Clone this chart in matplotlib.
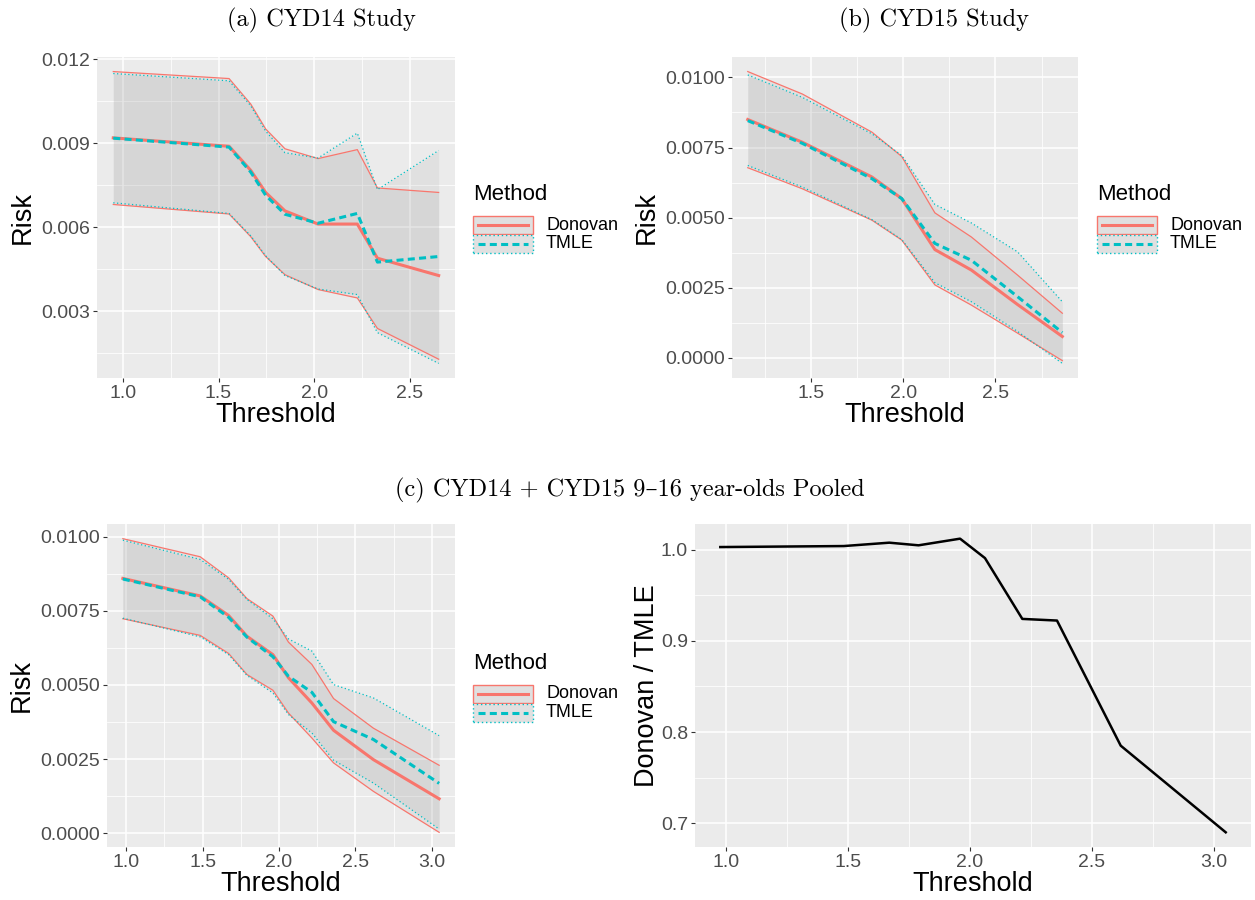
import matplotlib
matplotlib.use('Agg')
import matplotlib.pyplot as plt
from matplotlib.patches import Rectangle
from matplotlib.lines import Line2D
from matplotlib.ticker import MultipleLocator, FormatStrFormatter

plt.rcParams['font.family'] = ['Liberation Sans', 'DejaVu Sans']

# (a) CYD14
a_x = [0.95, 1.555, 1.668, 1.746, 1.847, 2.02, 2.225, 2.330, 2.650]
a_don = [0.00919, 0.00889, 0.00803, 0.00724, 0.00658, 0.00611, 0.00611, 0.00489, 0.00427]
a_don_lo = [0.00681, 0.00647, 0.00566, 0.00495, 0.00430, 0.00377, 0.00347, 0.00238, 0.00128]
a_don_hi = [0.01156, 0.01131, 0.01040, 0.00951, 0.00880, 0.00845, 0.00877, 0.00740, 0.00724]
a_tmle = [0.00918, 0.00886, 0.00797, 0.00714, 0.00646, 0.00614, 0.00649, 0.00475, 0.00495]
a_tmle_lo = [0.00687, 0.00649, 0.00569, 0.00498, 0.00427, 0.00379, 0.00359, 0.00223, 0.00113]
a_tmle_hi = [0.01149, 0.01123, 0.01034, 0.00943, 0.00866, 0.00847, 0.00936, 0.00734, 0.00874]

# (b) CYD15
b_x = [1.155, 1.451, 1.829, 1.991, 2.171, 2.369, 2.620, 2.863]
b_don = [0.00850, 0.00769, 0.00645, 0.00568, 0.00386, 0.00313, 0.00190, 0.00076]
b_don_lo = [0.00678, 0.00603, 0.00491, 0.00420, 0.00260, 0.00188, 0.00088, -0.00010]
b_don_hi = [0.01021, 0.00941, 0.00805, 0.00718, 0.00517, 0.00431, 0.00295, 0.00159]
b_tmle = [0.00846, 0.00765, 0.00639, 0.00568, 0.00408, 0.00348, 0.00218, 0.00090]
b_tmle_lo = [0.00686, 0.00609, 0.00493, 0.00422, 0.00268, 0.00200, 0.00094, -0.00020]
b_tmle_hi = [0.01009, 0.00929, 0.00799, 0.00722, 0.00547, 0.00481, 0.00378, 0.00200]

# (c) pooled
c_x = [0.978, 1.484, 1.670, 1.790, 1.960, 2.062, 2.215, 2.357, 2.618, 3.048]
c_don = [0.00859, 0.00800, 0.00734, 0.00664, 0.00602, 0.00524, 0.00439, 0.00347, 0.00248, 0.00116]
c_don_lo = [0.00723, 0.00667, 0.00606, 0.00535, 0.00482, 0.00405, 0.00321, 0.00237, 0.00141, 0.00003]
c_don_hi = [0.00993, 0.00932, 0.00861, 0.00791, 0.00732, 0.00644, 0.00569, 0.00454, 0.00354, 0.00229]
c_tmle = [0.00857, 0.00797, 0.00728, 0.00661, 0.00595, 0.00529, 0.00475, 0.00376, 0.00316, 0.00168]
c_tmle_lo = [0.00725, 0.00662, 0.00602, 0.00532, 0.00473, 0.00400, 0.00338, 0.00246, 0.00169, 0.00014]
c_tmle_hi = [0.00988, 0.00923, 0.00856, 0.00788, 0.00723, 0.00655, 0.00614, 0.00501, 0.00456, 0.00329]
c_ratio = [1.0029, 1.0040, 1.0077, 1.0048, 1.0121, 0.9908, 0.9241, 0.9223, 0.7851, 0.6901]

methods = ['Donovan', 'TMLE']

RED = '#F8766D'
CYAN = '#00BFC4'
DOT = (0, (1, 2))
DASH = (0, (2.3, 1.4))
SERIF = ['cmr10', 'DejaVu Serif']
W, H = 1255, 900

fig = plt.figure(figsize=(W / 100, H / 100), dpi=100)


def fx(px):
    return px / W


def fy(py):
    return 1 - py / H


def style_axes(ax, ymajor, yfmt, ylabel, ypad=4):
    ax.set_facecolor('#EBEBEB')
    for s in ax.spines.values():
        s.set_visible(False)
    ax.xaxis.set_major_locator(MultipleLocator(0.5))
    ax.xaxis.set_minor_locator(MultipleLocator(0.25))
    ax.yaxis.set_major_locator(MultipleLocator(ymajor))
    ax.yaxis.set_minor_locator(MultipleLocator(ymajor / 2))
    ax.xaxis.set_major_formatter(FormatStrFormatter('%.1f'))
    ax.yaxis.set_major_formatter(FormatStrFormatter(yfmt))
    ax.grid(which='major', color='white', lw=1.1)
    ax.grid(which='minor', color='white', lw=0.55)
    ax.set_axisbelow(True)
    ax.tick_params(which='major', length=3, width=0.8, color='#333333',
                   labelcolor='#4D4D4D', labelsize=14, pad=2)
    ax.tick_params(which='minor', length=0)
    ax.set_xlabel('Threshold', fontsize=19.5, labelpad=0)
    ax.set_ylabel(ylabel, fontsize=19.5, labelpad=ypad)


def risk_panel(ax, x, don, don_lo, don_hi, tmle, tmle_lo, tmle_hi):
    ax.fill_between(x, don_lo, don_hi, color='grey', alpha=0.1, lw=0)
    ax.fill_between(x, tmle_lo, tmle_hi, color='grey', alpha=0.1, lw=0)
    ax.plot(x, don_lo, color=RED, lw=0.9)
    ax.plot(x, don_hi, color=RED, lw=0.9)
    ax.plot(x, tmle_lo, color=CYAN, lw=0.9, ls=DOT)
    ax.plot(x, tmle_hi, color=CYAN, lw=0.9, ls=DOT)
    ax.plot(x, don, color=RED, lw=2.2)
    ax.plot(x, tmle, color=CYAN, lw=2.2, ls=DASH)


def add_legend(x0, y0):
    # x0: left edge, y0: baseline of the "Method" title (pixels from top)
    fig.text(fx(x0), fy(y0), 'Method', fontsize=16, va='baseline', ha='left')
    colors = [RED, CYAN]
    border = ['solid', DOT]
    inner = ['solid', DASH]
    for i, name in enumerate(methods):
        top = y0 + 16 + i * 18.5
        fig.add_artist(Rectangle((fx(x0), fy(top + 18)), 60 / W, 18 / H,
                                 transform=fig.transFigure, facecolor='#E0E0E0',
                                 edgecolor=colors[i], lw=1.0, ls=border[i]))
        fig.add_artist(Line2D([fx(x0 + 5), fx(x0 + 55)], [fy(top + 9)] * 2,
                              transform=fig.transFigure, color=colors[i],
                              lw=2.2, ls=inner[i]))
        fig.text(fx(x0 + 73), fy(top + 9), name, fontsize=13,
                 va='center', ha='left')


ax_a = fig.add_axes([0.0773, 0.58, 0.2852, 0.3567])
risk_panel(ax_a, a_x, a_don, a_don_lo, a_don_hi, a_tmle, a_tmle_lo, a_tmle_hi)
style_axes(ax_a, 0.003, '%.3f', 'Risk')
add_legend(473, 200)

ax_b = fig.add_axes([0.5833, 0.58, 0.2757, 0.3567])
risk_panel(ax_b, b_x, b_don, b_don_lo, b_don_hi, b_tmle, b_tmle_lo, b_tmle_hi)
style_axes(ax_b, 0.0025, '%.4f', 'Risk')
add_legend(1097, 200)

ax_c = fig.add_axes([0.0853, 0.0589, 0.2772, 0.3589])
risk_panel(ax_c, c_x, c_don, c_don_lo, c_don_hi, c_tmle, c_tmle_lo, c_tmle_hi)
style_axes(ax_c, 0.0025, '%.4f', 'Risk')
add_legend(473, 669)

ax_r = fig.add_axes([0.5538, 0.0589, 0.443, 0.3589])
ax_r.plot(c_x, c_ratio, color='black', lw=1.8)
style_axes(ax_r, 0.1, '%.1f', 'Donovan / TMLE', ypad=1)

fig.text(fx(321), fy(20), '(a) CYD14 Study', ha='center', va='center',
         family=SERIF, fontsize=17.5)
fig.text(fx(934), fy(20), '(b) CYD15 Study', ha='center', va='center',
         family=SERIF, fontsize=17.5)
fig.text(fx(630), fy(490), '(c) CYD14 + CYD15 9–16 year-olds Pooled',
         ha='center', va='center', family=SERIF, fontsize=17.5)

fig.savefig('out.png', dpi=100)
